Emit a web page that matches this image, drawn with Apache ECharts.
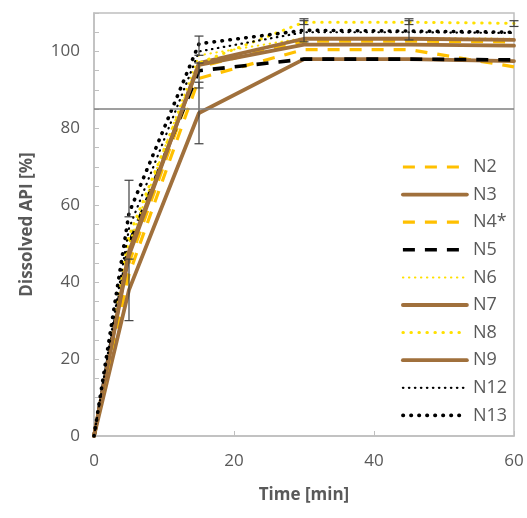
<!DOCTYPE html>
<html>
<head>
<meta charset="utf-8">
<script src="https://cdn.jsdelivr.net/npm/echarts@6/dist/echarts.min.js"></script>
<style>html,body{margin:0;padding:0;background:#fff}#c{width:527px;height:518px}</style>
</head>
<body>
<div id="c"></div>
<script>
// ---- data ----
const times = [0, 5, 15, 30, 45, 60];
const N2  = [0, 42, 93, 100.5, 100.5, 96];
const N3  = [0, 38, 84, 98, 98, 97.5];
const N4  = [0, 45, 96, 102.7, 102.7, 102.5];
const N5  = [0, 50, 95, 98, 98, 97.8];
const N6  = [0, 50, 99, 103.5, 103.5, 103.3];
const N7  = [0, 47, 97, 103.3, 103.3, 103];
const N8  = [0, 52, 97, 107.6, 107.6, 107.3];
const N9  = [0, 48, 96.5, 101.8, 101.8, 101.5];
const N12 = [0, 54, 100, 105, 105, 104.8];
const N13 = [0, 58, 102, 105.5, 105.3, 105];
const threshold = 85;
// error bars: time, low, high
const errT    = [5, 5, 15, 15, 15, 30, 30, 45, 45, 60];
const errLow  = [30, 57, 76, 99, 90.5, 107, 102.5, 107, 103, 106.5];
const errHigh = [46, 66.5, 92, 104, 97, 108.5, 108, 108.5, 108, 108];
const yTicks = [0, 20, 40, 60, 80, 100];
const xTicks = [0, 20, 40, 60];

const gold = '#FFC000', brown = '#A0703C', yel = '#FFE000', blk = '#000000';
function pts(arr){ return times.map((t,i)=>[t, arr[i]]); }
const legendData = [];
function mk(name, arr, color, width, type, cap){
  const ls = {color, width, type, cap: cap||'butt'};
  legendData.push({name, lineStyle: Object.assign({}, ls)});
  return {name, type:'line', data: pts(arr), symbol:'none', smooth:false,
    lineStyle: ls, itemStyle:{color}, z:3};
}
const series = [
  mk('N2', N2, gold, 3.2, [12,10]),
  mk('N3', N3, brown, 3.8, 'solid', 'round'),
  mk('N4*', N4, gold, 3.2, [12,10]),
  mk('N5', N5, blk, 3.6, [12,10]),
  mk('N6', N6, yel, 2, [0.5,5.5], 'round'),
  mk('N7', N7, brown, 3.8, 'solid', 'round'),
  mk('N8', N8, yel, 3, [0.5,7.5], 'round'),
  mk('N9', N9, brown, 3.8, 'solid', 'round'),
  mk('N12', N12, blk, 2.2, [0.5,5.5], 'round'),
  mk('N13', N13, blk, 3.6, [0.5,7.5], 'round')
];
series[0].markLine = {silent:true, symbol:'none', label:{show:false},
  lineStyle:{color:'#7F7F7F', width:1.5, type:'solid'}, data:[{yAxis: threshold}]};
series.push({
  type:'custom', name:'err', z:4,
  data: errT.map((t,i)=>[t, errLow[i], errHigh[i]]),
  renderItem: function(params, api){
    const lo = api.coord([api.value(0), api.value(1)]);
    const hi = api.coord([api.value(0), api.value(2)]);
    const w = 4.5;
    const st = {stroke:'#404040', lineWidth:1.2};
    return {type:'group', children:[
      {type:'line', shape:{x1:lo[0], y1:lo[1], x2:hi[0], y2:hi[1]}, style:st},
      {type:'line', shape:{x1:lo[0]-w, y1:lo[1], x2:lo[0]+w, y2:lo[1]}, style:st},
      {type:'line', shape:{x1:hi[0]-w, y1:hi[1], x2:hi[0]+w, y2:hi[1]}, style:st}
    ]};
  }
});

const font = "'Open Sans', sans-serif";
const chart = echarts.init(document.getElementById('c'), null, {renderer:'canvas'});
chart.setOption({
  animation:false,
  backgroundColor:'#fff',
  grid:{left:94, right:13, top:13, bottom:82, show:true, borderColor:'#BFBFBF', borderWidth:1.5},
  xAxis:{type:'value', min:0, max:60, interval:20,
    name:'Time [min]', nameLocation:'middle', nameGap:51,
    nameTextStyle:{fontFamily:font, fontSize:17, fontWeight:'bold', color:'#595959'},
    axisLine:{show:true, lineStyle:{color:'#BFBFBF', width:1.5}},
    axisTick:{show:true, inside:true, length:5, lineStyle:{color:'#BFBFBF'}},
    splitLine:{show:false},
    axisLabel:{margin:17, fontFamily:font, fontSize:17, color:'#595959',
      formatter:v=> xTicks.includes(v) ? String(v) : ''}
  },
  yAxis:{type:'value', min:0, max:110, interval:20,
    name:'Dissolved API [%]', nameLocation:'middle', nameGap:58,
    nameTextStyle:{fontFamily:font, fontSize:17, fontWeight:'bold', color:'#595959'},
    axisLine:{show:true, lineStyle:{color:'#BFBFBF', width:1.5}},
    axisTick:{show:true, inside:true, length:5, lineStyle:{color:'#BFBFBF'}},
    minorTick:{show:true, splitNumber:4, length:5, lineStyle:{color:'#BFBFBF'}},
    splitLine:{show:false},
    axisLabel:{margin:14, fontFamily:font, fontSize:17, color:'#595959',
      formatter:v=> yTicks.includes(v) ? String(v) : ''}
  },
  legend:{orient:'vertical', left:396, top:153, itemWidth:64, itemHeight:18, itemGap:9.6,
    data: legendData,
    itemStyle:{opacity:0, borderWidth:0},
    textStyle:{fontFamily:font, fontSize:18, color:'#595959', padding:[0,0,0,1]},
    backgroundColor:'#fff'},
  series
});
</script>
</body>
</html>
